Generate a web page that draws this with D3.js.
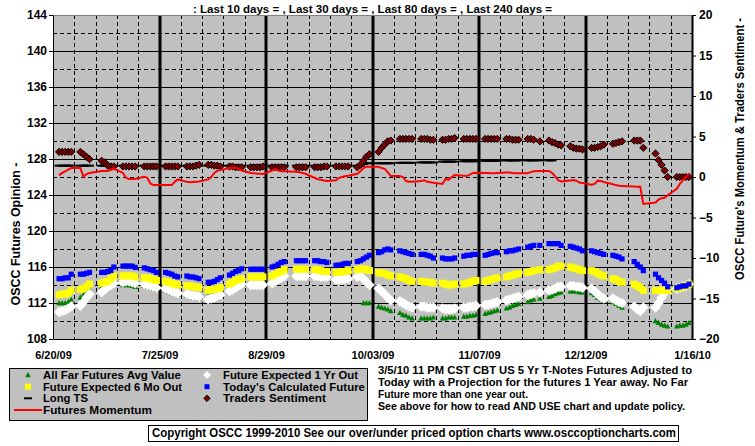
<!DOCTYPE html>
<html><head><meta charset="utf-8">
<script src="https://cdn.jsdelivr.net/npm/d3@7"></script>
<style>
html,body{margin:0;padding:0;background:#fff;}
svg{display:block;font-family:Arial,"Liberation Sans",sans-serif;font-weight:bold;}
</style></head><body>
<svg id="c" width="755" height="446"></svg>
<script>
// ---------------- DATA ----------------
const dates = [
 "6/22/09","6/23/09","6/24/09","6/25/09","6/26/09",
 "6/29/09","6/30/09","7/1/09","7/2/09",
 "7/6/09","7/7/09","7/8/09","7/9/09","7/10/09",
 "7/13/09","7/14/09","7/15/09","7/16/09","7/17/09",
 "7/20/09","7/21/09","7/22/09","7/23/09","7/24/09",
 "7/27/09","7/28/09","7/29/09","7/30/09","7/31/09",
 "8/3/09","8/4/09","8/5/09","8/6/09","8/7/09",
 "8/10/09","8/11/09","8/12/09","8/13/09","8/14/09",
 "8/17/09","8/18/09","8/19/09","8/20/09","8/21/09",
 "8/24/09","8/25/09","8/26/09","8/27/09","8/28/09",
 "8/31/09","9/1/09","9/2/09","9/3/09","9/4/09",
 "9/8/09","9/9/09","9/10/09","9/11/09",
 "9/14/09","9/15/09","9/16/09","9/17/09","9/18/09",
 "9/21/09","9/22/09","9/23/09","9/24/09","9/25/09",
 "9/28/09","9/29/09","9/30/09","10/1/09","10/2/09",
 "10/5/09","10/6/09","10/7/09","10/8/09","10/9/09",
 "10/12/09","10/13/09","10/14/09","10/15/09","10/16/09",
 "10/19/09","10/20/09","10/21/09","10/22/09","10/23/09",
 "10/26/09","10/27/09","10/28/09","10/29/09","10/30/09",
 "11/2/09","11/3/09","11/4/09","11/5/09","11/6/09",
 "11/9/09","11/10/09","11/11/09","11/12/09","11/13/09",
 "11/16/09","11/17/09","11/18/09","11/19/09","11/20/09",
 "11/23/09","11/24/09","11/25/09","11/27/09",
 "11/30/09","12/1/09","12/2/09","12/3/09","12/4/09",
 "12/7/09","12/8/09","12/9/09","12/10/09","12/11/09",
 "12/14/09","12/15/09","12/16/09","12/17/09","12/18/09",
 "12/21/09","12/22/09","12/23/09","12/24/09",
 "12/28/09","12/29/09","12/30/09","12/31/09",
 "1/4/10","1/5/10","1/6/10","1/7/10","1/8/10",
 "1/11/10","1/12/10","1/13/10","1/14/10","1/15/10"
];

// All Far Futures Avg Value (left axis)
const farFuturesAvg = [
 112.0,112.0,112.0,112.1,112.4,
 112.6,112.9,113.2,113.4,
 113.8,113.9,114.0,114.1,114.2,
 114.0,114.0,114.0,113.9,113.8,
 113.9,113.8,113.7,113.6,113.5,
 113.4,113.3,113.1,113.0,112.9,
 112.8,112.7,112.6,112.6,112.5,
 112.8,112.9,113.0,113.1,113.2,
 113.5,113.7,113.9,114.1,114.3,
 114.2,114.2,114.2,114.2,114.2,
 114.4,114.6,114.8,115.0,115.2,
 115.2,115.2,115.2,115.2,
 115.3,115.3,115.2,115.2,115.2,
 114.9,114.9,115.0,115.0,115.0,
 115.0,115.0,112.0,112.0,112.0,
 111.6,111.5,111.4,111.3,111.1,
 110.9,110.7,110.6,110.4,110.3,
 110.3,110.3,110.3,110.3,110.4,
 110.3,110.3,110.4,110.4,110.4,
 110.5,110.5,110.6,110.6,110.7,
 110.8,110.9,111.0,111.1,111.2,
 111.4,111.5,111.7,111.8,111.9,
 112.1,112.3,112.4,112.5,
 112.7,112.8,113.0,113.1,113.2,
 113.3,113.3,113.3,113.2,113.2,
 113.1,112.9,112.6,112.4,112.3,
 112.1,111.9,111.7,111.5,
 null,null,null,null,
 110.0,109.8,109.6,109.5,109.4,
 109.4,109.5,109.5,109.6,109.8
];

// Future Expected 1 Yr Out (left axis)
const expected1Yr = [
 111.0,111.1,111.2,111.4,111.6,
 111.7,112.1,112.6,113.0,
 113.2,113.5,113.8,114.0,114.2,
 114.3,114.4,114.4,114.3,114.2,
 114.1,114.0,113.9,113.8,113.7,
 113.6,113.5,113.3,113.2,113.1,
 113.0,112.9,112.8,112.8,112.7,
 112.4,112.5,112.6,112.8,112.9,
 113.3,113.5,113.7,113.9,114.1,
 114.0,114.0,114.0,114.0,114.0,
 114.2,114.4,114.6,114.8,115.0,
 115.0,115.0,115.0,115.0,
 115.0,115.0,114.9,114.9,114.9,
 114.6,114.6,114.6,114.7,114.7,
 114.9,115.0,114.7,114.3,114.0,
 113.6,113.3,113.0,112.6,112.3,
 112.2,112.0,111.8,111.6,111.5,
 111.6,111.6,111.5,111.5,111.5,
 111.4,111.3,111.3,111.3,111.4,
 111.5,111.5,111.6,111.6,111.7,
 111.8,111.8,111.9,112.0,112.1,
 112.3,112.4,112.5,112.6,112.7,
 112.9,113.0,113.1,113.2,
 113.4,113.5,113.6,113.8,113.8,
 113.9,113.9,113.8,113.8,113.7,
 113.6,113.3,113.0,112.7,112.5,
 112.5,112.3,112.1,112.0,
 111.6,111.3,111.1,111.5,
 111.5,112.0,112.6,113.1,113.5,
 113.6,113.7,113.8,113.9,114.1
];

// Future Expected 6 Mo Out (left axis)
const expected6Mo = [
 112.9,113.0,113.0,113.1,113.4,
 113.5,113.6,113.8,114.1,
 114.2,114.3,114.4,114.7,115.0,
 115.0,115.0,115.0,115.0,114.9,
 114.8,114.8,114.7,114.6,114.5,
 114.4,114.3,114.2,114.1,114.0,
 113.9,113.9,113.8,113.8,113.7,
 113.4,113.5,113.5,113.6,113.7,
 114.1,114.3,114.5,114.6,114.7,
 114.9,114.9,114.9,114.9,114.9,
 115.0,115.2,115.4,115.5,115.7,
 115.75,115.75,115.75,115.75,
 115.7,115.7,115.6,115.5,115.5,
 115.4,115.4,115.5,115.5,115.6,
 115.7,115.8,115.8,115.7,115.6,
 115.4,115.3,115.3,115.1,115.0,
 114.9,114.8,114.7,114.5,114.4,
 114.4,114.4,114.3,114.3,114.2,
 114.2,114.1,114.0,114.0,114.1,
 114.1,114.2,114.3,114.4,114.5,
 114.4,114.5,114.6,114.7,114.8,
 114.9,115.0,115.1,115.2,115.3,
 115.4,115.5,115.6,115.7,
 115.7,115.8,115.9,116.1,116.1,
 116.0,115.9,115.8,115.7,115.6,
 115.6,115.5,115.3,115.1,115.0,
 114.7,114.6,114.4,114.3,
 114.1,113.9,113.7,113.4,
 113.4,113.4,113.4,113.4,113.4,
 113.6,113.7,113.8,113.9,114.1
];

// Today's Calculated Future (left axis)
const calculatedFuture = [
 114.7,114.7,114.8,114.8,115.2,
 115.2,115.2,115.3,115.4,
 115.4,115.4,115.5,115.6,116.0,
 116.1,116.1,116.1,116.1,115.95,
 115.9,115.8,115.7,115.6,115.4,
 115.4,115.3,115.2,115.0,114.9,
 115.0,114.9,114.9,114.8,114.7,
 114.3,114.3,114.4,114.6,114.8,
 115.1,115.3,115.5,115.6,115.8,
 115.75,115.75,115.75,115.75,115.75,
 116.0,116.1,116.3,116.5,116.6,
 116.7,116.7,116.7,116.7,
 116.7,116.7,116.6,116.6,116.5,
 116.2,116.2,116.3,116.4,116.4,
 116.6,116.7,116.9,117.1,117.3,
 117.6,117.7,117.9,118.0,117.9,
 117.8,117.7,117.6,117.5,117.4,
 117.4,117.4,117.3,117.2,117.0,
 117.0,116.9,116.9,116.9,117.0,
 117.2,117.3,117.3,117.4,117.4,
 117.3,117.4,117.5,117.6,117.6,
 117.7,117.8,117.8,117.9,118.0,
 118.2,118.3,118.4,118.4,
 118.6,118.6,118.6,118.6,118.4,
 118.3,118.2,118.1,118.0,117.8,
 117.8,117.7,117.6,117.5,117.4,
 117.3,117.2,117.1,116.9,
 116.6,116.3,116.0,115.6,
 115.2,114.8,114.5,114.2,113.8,
 113.7,113.8,113.9,113.9,114.1
];

// Long TS (right axis)
const longTS = [
 1.4,1.4,1.4,1.4,1.4,
 1.4,1.4,1.4,1.4,
 1.4,1.4,1.4,1.4,1.4,
 1.4,1.4,1.4,1.4,1.4,
 1.4,1.4,1.4,1.4,1.4,
 1.4,1.4,1.4,1.4,1.4,
 1.4,1.4,1.4,1.4,1.4,
 1.4,1.4,1.4,1.4,1.4,
 1.4,1.4,1.4,1.4,1.4,
 1.4,1.4,1.4,1.4,1.4,
 1.4,1.4,1.4,1.4,1.4,
 1.4,1.4,1.4,1.4,
 1.4,1.4,1.4,1.4,1.4,
 1.4,1.4,1.4,1.4,1.4,
 1.4,1.4,1.6,1.7,1.7,
 1.7,1.7,1.7,1.7,1.7,
 1.75,1.75,1.75,1.75,1.75,
 1.8,1.8,1.8,1.8,1.8,
 1.9,1.9,1.9,1.9,1.9,
 1.95,1.95,1.95,1.95,1.95,
 2.0,2.0,2.0,2.0,2.0,
 2.05,2.05,2.05,2.05,2.05,
 2.05,2.05,2.05,2.05,
 2.05,2.05,null,null,null,
 null,null,null,null,null,
 null,null,null,null,null,
 null,null,null,null,
 null,null,null,null,
 null,null,null,null,null,
 null,null,null,null,null
];

// Traders Sentiment (right axis)
const tradersSentiment = [
 3.1,3.1,3.1,3.1,3.1,
 3.1,2.8,2.5,2.2,
 2.0,1.8,1.4,1.3,1.3,
 1.3,1.3,1.3,1.3,1.3,
 1.3,1.3,1.3,1.3,1.3,
 1.3,1.3,1.3,1.3,1.3,
 1.3,1.3,1.3,1.4,1.5,
 1.5,1.5,1.4,1.4,1.3,
 1.3,1.3,1.2,1.2,1.2,
 1.2,1.2,1.2,1.2,1.3,
 1.2,1.2,1.2,1.2,1.2,
 1.2,1.2,1.2,1.2,
 1.2,1.2,1.2,1.3,1.3,
 1.3,1.3,1.3,1.3,1.3,
 1.2,1.5,2.0,2.5,2.8,
 3.1,3.6,4.0,4.4,4.5,
 4.7,4.7,4.7,4.7,4.7,
 4.7,4.7,4.7,4.6,4.6,
 4.6,4.6,4.7,4.7,4.8,
 4.7,4.7,4.7,4.7,4.7,
 4.7,4.7,4.7,4.7,4.7,
 4.7,4.7,4.6,4.6,4.6,
 4.7,4.7,4.6,4.4,
 4.5,4.3,4.2,4.0,3.9,
 3.8,3.6,3.5,3.5,3.4,
 3.6,3.6,3.7,3.8,4.0,
 4.1,4.2,4.3,4.4,
 4.5,4.5,4.5,3.6,
 2.9,2.1,1.5,0.8,0.0,
 0.0,0.0,0.0,0.0,0.0
];

// Futures Momentum (right axis)
const futuresMomentum = [
 0.2,0.5,0.7,0.9,1.1,
 1.1,0.05,0.35,0.5,
 0.74,0.74,0.74,0.9,1.05,
 0.5,-0.1,-0.25,-0.25,-0.25,
 0.04,-0.1,-0.8,-1.0,-1.0,
 -1.0,-1.0,-1.0,-0.6,-0.3,
 -0.6,-0.66,-0.62,-0.58,-0.55,
 -0.3,0.0,0.5,0.76,0.85,
 1.1,1.12,1.15,1.0,0.8,
 0.5,0.45,0.42,0.4,0.37,
 0.8,1.0,0.8,0.72,0.7,
 0.65,0.6,0.5,0.4,
 -0.1,-0.28,-0.35,-0.42,-0.5,
 -0.4,-0.1,0.0,0.1,0.15,
 0.4,0.7,1.1,1.27,1.27,
 1.27,1.1,1.0,0.6,0.12,
 0.12,0.0,-0.5,-0.58,-0.58,
 -0.5,-0.4,-0.6,-0.65,-0.7,
 -0.86,-0.25,-0.35,0.0,0.24,
 0.15,0.12,0.3,0.5,0.53,
 0.5,0.48,0.46,0.45,0.5,
 0.57,0.55,0.5,0.46,0.45,
 0.47,0.6,0.7,0.74,
 0.74,0.5,0.1,-0.4,-0.55,
 -0.42,-0.38,-0.45,-0.68,-0.75,
 -0.95,-0.85,-0.45,-0.5,-0.62,
 -0.9,-1.0,-1.08,-1.1,
 -1.18,-1.19,-1.2,-3.33,
 -3.15,-2.8,-2.63,-2.57,-2.25,
 -1.45,-0.85,-0.42,0.0,0.35
];

const xTickLabels = ["6/20/09","7/25/09","8/29/09","10/03/09","11/07/09","12/12/09","1/16/10"];
const leftTicks = [108,112,116,120,124,128,132,136,140,144];
const rightTicks = [-20,-15,-10,-5,0,5,10,15,20];

const titleText = ": Last 10 days = , Last 30 days = , Last 80 days = , Last 240 days =";
const leftTitle = "OSCC Futures Opinion -";
const rightTitle = "OSCC Future's Momentum & Traders Sentiment -";
const legendCol1 = ["All Far Futures Avg Value","Future Expected 6 Mo Out","Long TS","Futures Momentum"];
const legendCol2 = ["Future Expected 1 Yr Out","Today's Calculated Future","Traders Sentiment"];
const notes = [
 "3/5/10 11 PM CST CBT US 5 Yr T-Notes Futures Adjusted to",
 "Today with a Projection for the futures 1 Year away. No Far",
 "Future more than one year out.",
 "See above for how to read AND USE chart and update policy."
];
const copyright = "Copyright OSCC 1999-2010 See our over/under priced option charts www.osccoptioncharts.com";

// ---------------- CHART ----------------
const svg = d3.select("#c");
const parse = d3.timeParse("%m/%d/%y");
const D = dates.map(parse);
const tickDates = xTickLabels.map(parse);

const L = 53, R = 692, T = 15, B = 339;
const x = d3.scaleTime().domain([tickDates[0], tickDates[tickDates.length-1]]).range([L, R]);
const yL = d3.scaleLinear().domain([108,144]).range([B, T]);
const yR = d3.scaleLinear().domain([-20,20]).range([B, T]);

svg.append("rect").attr("width",755).attr("height",446).attr("fill","#fff");
svg.append("rect").attr("x",L).attr("y",T).attr("width",R-L).attr("height",B-T).attr("fill","#c0c0c0");

// horizontal grid
const grid = svg.append("g");
d3.range(110,144,2).forEach(v=>{
  grid.append("line").attr("x1",L).attr("x2",R).attr("y1",yL(v)+0.5).attr("y2",yL(v)+0.5)
    .attr("stroke","#000").attr("stroke-width",1)
    .attr("stroke-dasharray", v%4===0 ? null : "4,3");
});
// vertical grid (weekly dashed, 5-weekly thick)
const start = tickDates[0];
d3.range(7,210,7).forEach(n=>{
  const d = d3.timeDay.offset(start,n);
  const xx = Math.round(x(d));
  if (n%35===0) {
    grid.append("line").attr("x1",xx).attr("x2",xx).attr("y1",T).attr("y2",B)
      .attr("stroke","#000").attr("stroke-width",3);
  } else {
    grid.append("line").attr("x1",xx+0.5).attr("x2",xx+0.5).attr("y1",T).attr("y2",B)
      .attr("stroke","#000").attr("stroke-width",1).attr("stroke-dasharray","4,3");
  }
});
// top border
svg.append("line").attr("x1",L).attr("x2",R).attr("y1",T+0.5).attr("y2",T+0.5).attr("stroke","#808080");

// axes
const axL = svg.append("g").attr("transform",`translate(${L},0)`)
  .call(d3.axisLeft(yL).tickValues(leftTicks).tickSize(4).tickPadding(2).tickSizeOuter(0).tickFormat(d3.format("d")));
const axR = svg.append("g").attr("transform",`translate(${R},0)`)
  .call(d3.axisRight(yR).tickValues(rightTicks).tickSize(4).tickPadding(3).tickSizeOuter(0).tickFormat(d3.format("d")));
const axB = svg.append("g").attr("transform",`translate(0,${B})`)
  .call(d3.axisBottom(x).tickValues(tickDates).tickSize(0).tickPadding(12).tickSizeOuter(0).tickFormat((d,i)=>xTickLabels[i]));
[[axL,"12px"],[axR,"12px"],[axB,"11px"]].forEach(([a,fs])=>{
  a.selectAll("text").attr("font-size",fs).attr("font-weight","bold").attr("fill","#000")
    .attr("font-family","Arial, 'Liberation Sans', sans-serif");
  a.selectAll("line").attr("stroke","#000");
  a.select(".domain").attr("stroke","#000").attr("stroke-width",1);
});
axR.select(".domain").attr("stroke-width",2);

// markers
const tri = "M0,-3L2.8,2.2L-2.8,2.2Z";
const diamond = r => `M0,${-r}L${r},0L0,${r}L${-r},0Z`;
const square = h => `M${-h},${-h}H${h}V${h}H${-h}Z`;
const pts = vals => D.map((d,i)=>({d, v: vals[i]})).filter(p=>p.v!=null);

function drawPts(vals, scale, path, fill, stroke){
  svg.append("g").selectAll("path").data(pts(vals)).join("path")
    .attr("d", path)
    .attr("transform", p=>`translate(${x(p.d)},${scale(p.v)})`)
    .attr("fill", fill)
    .attr("stroke", stroke || "none")
    .attr("stroke-width", stroke ? 1 : 0);
}
drawPts(farFuturesAvg, yL, tri, "#008000");
drawPts(expected1Yr, yL, diamond(5.2), "#ffffff");
drawPts(expected6Mo, yL, square(3.5), "#ffff00");
drawPts(calculatedFuture, yL, square(2.6), "#0000ff");
// Long TS dash markers
svg.append("g").selectAll("rect").data(pts(longTS)).join("rect")
  .attr("x", p=>x(p.d)-4.5).attr("y", p=>yR(p.v)-1).attr("width",9).attr("height",2).attr("fill","#000");
drawPts(tradersSentiment, yR, diamond(3.6), "#800000", "#000");
// momentum line
svg.append("path").datum(pts(futuresMomentum))
  .attr("d", d3.line().x(p=>x(p.d)).y(p=>yR(p.v)))
  .attr("fill","none").attr("stroke","#ff0000").attr("stroke-width",2);

// titles
const txt = (xx,yy,s,size,len) => {
  const t = svg.append("text").attr("x",xx).attr("y",yy).text(s)
    .attr("font-size",size).attr("fill","#000");
  if (len) t.attr("textLength",len).attr("lengthAdjust","spacingAndGlyphs");
  return t;
};
txt(193,13,titleText,"11px",359);
svg.append("text").attr("transform","translate(20,234) rotate(-90)").attr("text-anchor","middle")
  .attr("font-size","12px").attr("textLength",143).attr("lengthAdjust","spacingAndGlyphs").text(leftTitle);
svg.append("text").attr("transform","translate(744,149) rotate(-90)").attr("text-anchor","middle")
  .attr("font-size","12px").attr("textLength",262).attr("lengthAdjust","spacingAndGlyphs").text(rightTitle);

// legend
svg.append("rect").attr("x",9.5).attr("y",368.5).attr("width",358).attr("height",52)
  .attr("fill","#c0c0c0").attr("stroke","#000");
const rowsY = [375, 386.7, 398.3, 410];
const len1 = [138,139,45,109], len2 = [135,142,103];
legendCol1.forEach((s,i)=>txt(43, rowsY[i]+4, s, "11px", len1[i]));
legendCol2.forEach((s,i)=>txt(223, rowsY[i]+4, s, "11px", len2[i]));
const lg = svg.append("g");
lg.append("path").attr("d",tri).attr("transform",`translate(28,${rowsY[0]})`).attr("fill","#008000");
lg.append("path").attr("d",square(3)).attr("transform",`translate(28,${rowsY[1]})`).attr("fill","#ffff00");
lg.append("rect").attr("x",24).attr("y",rowsY[2]-1).attr("width",8).attr("height",2).attr("fill","#000");
lg.append("line").attr("x1",14).attr("x2",42).attr("y1",rowsY[3]).attr("y2",rowsY[3]).attr("stroke","#ff0000").attr("stroke-width",2);
lg.append("path").attr("d",diamond(4)).attr("transform",`translate(207,${rowsY[0]})`).attr("fill","#fff");
lg.append("path").attr("d",square(2.5)).attr("transform",`translate(207,${rowsY[1]})`).attr("fill","#0000ff");
lg.append("path").attr("d",diamond(3.2)).attr("transform",`translate(207,${rowsY[2]})`).attr("fill","#800000").attr("stroke","#000");

// notes
const notesY = [374, 385.7, 397.7, 410];
const notesLen = [314, 310, 150, 307];
notes.forEach((s,i)=>txt(378, notesY[i], s, "11px", notesLen[i]));

// copyright
svg.append("rect").attr("x",148.5).attr("y",425.5).attr("width",530).attr("height",16)
  .attr("fill","#fff").attr("stroke","#000");
txt(152, 437, copyright, "12px", 524);
</script>
</body></html>
